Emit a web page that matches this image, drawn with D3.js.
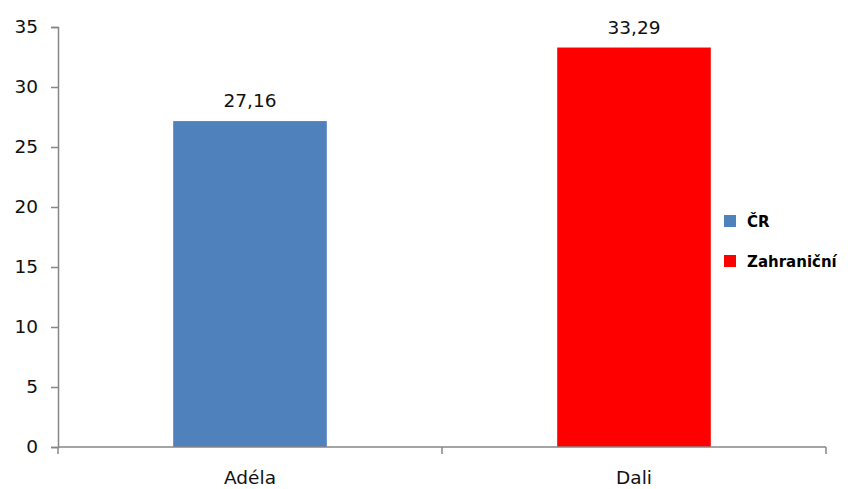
<!DOCTYPE html>
<html><head><meta charset="utf-8">
<script src="https://cdn.jsdelivr.net/npm/d3@7"></script>
<style>body{margin:0;background:#fff}svg{display:block}</style>
</head><body>
<script>
const categories = ["Adéla", "Dali"];
const values = [27.16, 33.29];
const seriesNames = ["ČR", "Zahraniční"];
const colors = ["#4f81bd", "#ff0000"];
const yTicks = [0, 5, 10, 15, 20, 25, 30, 35];

const W = 848, H = 489;
const svg = d3.select("body").append("svg").attr("width", W).attr("height", H);
const font = "'DejaVu Sans', Verdana, sans-serif";

const x = d3.scaleBand().domain(categories).range([58, 826]).paddingInner(0.6).paddingOuter(0.3);
const y = d3.scaleLinear().domain([0, 35]).range([447, 27]);
const axisColor = "#868686";

// Bars
svg.selectAll("rect.bar").data(categories).enter().append("rect")
  .attr("x", d => x(d)).attr("width", x.bandwidth())
  .attr("y", (d, i) => y(values[i])).attr("height", (d, i) => y(0) - y(values[i]))
  .attr("fill", (d, i) => colors[i]);

// Y axis
const yAxis = svg.append("g").attr("transform", "translate(58,0)")
  .call(d3.axisLeft(y).tickValues(yTicks).tickSize(7).tickPadding(13).tickFormat(d3.format("d")));
yAxis.select(".domain").attr("stroke", axisColor).attr("stroke-width", 1.5);
yAxis.selectAll(".tick line").attr("stroke", axisColor).attr("stroke-width", 1.5);
yAxis.selectAll("text").attr("font-family", font).attr("font-size", 18.5).attr("fill", "#111");

// X axis
const xAxis = svg.append("g").attr("transform", "translate(0,447)");
xAxis.append("line").attr("x1", 58).attr("x2", 826).attr("stroke", axisColor).attr("stroke-width", 1.5);
const bounds = [0, 1, 2].map(i => 58 + i * x.step());
xAxis.selectAll("line.t").data(bounds).enter().append("line")
  .attr("x1", d => d).attr("x2", d => d).attr("y1", 0).attr("y2", 7)
  .attr("stroke", axisColor).attr("stroke-width", 1.5);
xAxis.selectAll("text").data(categories).enter().append("text")
  .attr("x", d => x(d) + x.bandwidth() / 2).attr("y", 37)
  .attr("text-anchor", "middle").attr("font-family", font).attr("font-size", 18.5).attr("fill", "#111")
  .text(d => d);

// Value labels
const fmt = v => d3.format(".2f")(v).replace(".", ",");
svg.selectAll("text.val").data(categories).enter().append("text")
  .attr("x", d => x(d) + x.bandwidth() / 2).attr("y", (d, i) => y(values[i]) - 14)
  .attr("text-anchor", "middle").attr("font-family", font).attr("font-size", 18.5).attr("fill", "#111")
  .text((d, i) => fmt(values[i]));

// Legend
const leg = svg.append("g");
seriesNames.forEach((s, i) => {
  const yy = 215 + i * 40;
  leg.append("rect").attr("x", 724).attr("y", yy).attr("width", 12).attr("height", 12).attr("fill", colors[i]);
  leg.append("text").attr("x", 747).attr("y", yy + 12).attr("font-family", font).attr("font-weight", "bold")
    .attr("font-size", 15).attr("fill", "#000").text(s);
});
</script>
</body></html>
